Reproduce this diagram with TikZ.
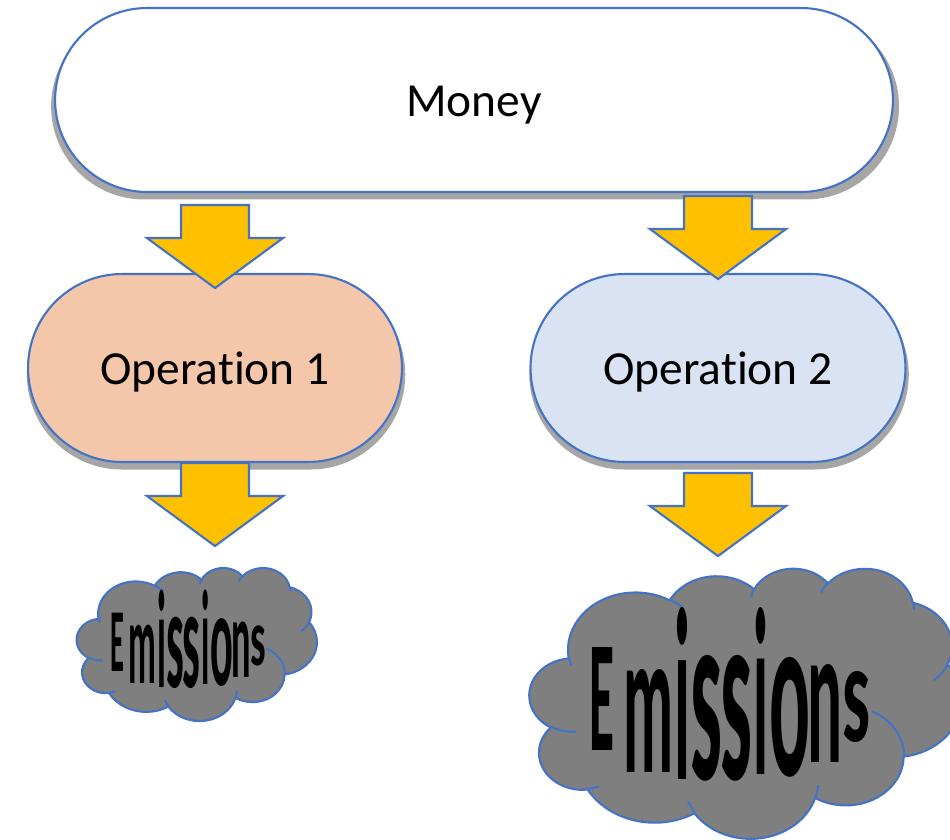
\documentclass[tikz,border=0pt]{standalone}
\usepackage{fontspec}
\setmainfont{Carlito}[RawFeature={-liga;-clig;-dlig;-calt}]
\usetikzlibrary{shapes.misc,shadows,calc}

\definecolor{edgeblue}{HTML}{4472C4}
\definecolor{peach}{HTML}{F4C7AA}
\definecolor{paleblue}{HTML}{DAE3F3}
\definecolor{amber}{HTML}{FFC000}
\definecolor{smoke}{HTML}{7F7F7F}
\definecolor{shade}{HTML}{A6A6A6}

\tikzset{
  pill/.style={rounded rectangle, draw=edgeblue, line width=1.2pt, inner sep=0pt,
    font=\fontsize{27}{32}\selectfont, text height=25.6pt, text depth=7.3pt,
    drop shadow={shadow xshift=0.6pt, shadow yshift=-3.6pt, shadow scale=1.012,
      fill=shade, opacity=1}},
  blockarrow/.style={draw=edgeblue, fill=amber, line width=1.2pt},
  cloudedge/.style={draw=edgeblue, line width=1.2pt},
  glyph/.style={anchor=south, inner sep=0pt, transform shape},
}

% fat down arrow, #1 = middle of the shaft top
\newcommand{\flowarrow}[1]{%
  \draw[blockarrow] (#1) ++(-34,0) -- ++(68,0) -- ++(0,33) -- ++(34,0)
    -- ++(-68,50) -- ++(-68,-50) -- ++(34,0) -- cycle;}

% cloud outline in a 432 x 432 box, y pointing down
\newcommand{\cloudoutline}{%
  \draw[cloudedge, fill=smoke] (38.62,145.05)
    arc[start angle=-187.75, end angle=-59.64, x radius=67.53, y radius=91.90]
    arc[start angle=-152.02, end angle=-45.45, x radius=53.33, y radius=72.67]
    arc[start angle=-153.48, end angle=-37.33, x radius=43.65, y radius=59.45]
    arc[start angle=-139.70, end angle=-10.22, x radius=48.57, y radius=65.95]
    arc[start angle=-74.77, end angle=23.21, x radius=53.33, y radius=72.73]
    arc[start angle=-37.53, end angle=81.87, x radius=67.75, y radius=92.20]
    arc[start angle=0.46, end angle=121.98, x radius=57.85, y radius=78.67]
    arc[start angle=16.85, end angle=146.22, x radius=67.52, y radius=92.15]
    arc[start angle=58.98, end angle=150.19, x radius=77.20, y radius=105.43]
    arc[start angle=83.30, end angle=223.12, x radius=43.60, y radius=59.18]
    arc[start angle=120.36, end angle=264.11, x radius=43.45, y radius=59.45]
    -- cycle;
  % the little folds inside
  \draw[cloudedge]
    (46.46,263.46) arc[start angle=85.54, end angle=120.36, x radius=43.45, y radius=59.45]
    (69.10,350.91) arc[start angle=68.23, end angle=83.30, x radius=43.60, y radius=59.18]
    (164.79,392.67) arc[start angle=146.22, end angle=158.47, x radius=67.52, y radius=92.15]
    (288.20,349.03) arc[start angle=4.73, end angle=16.85, x radius=67.52, y radius=92.15]
    (341.52,230.69) arc[start angle=-64.01, end angle=0.46, x radius=57.85, y radius=78.67]
    (418.17,154.61) arc[start angle=23.21, end angle=49.65, x radius=53.33, y radius=72.73]
    (383.16,55.77) arc[start angle=-10.22, end angle=0.83, x radius=48.57, y radius=65.95]
    (290.89,40.95) arc[start angle=-156.29, end angle=-139.70, x radius=48.57, y radius=65.95]
    (220.96,48.22) arc[start angle=-167.72, end angle=-154.10, x radius=43.65, y radius=59.45]
    (140.04,52.01) arc[start angle=-59.64, end angle=-45.74, x radius=67.53, y radius=91.90]
    (41.26,157.89) arc[start angle=163.19, end angle=172.25, x radius=67.53, y radius=91.90];
}

% cloud with stretched lettering, #1 name, #2 top left corner, #3 xscale, #4 yscale
\newcommand{\emissioncloud}[4]{%
  \begin{scope}[shift={#2}, xscale=#3, yscale=#4]
    \begin{scope}[yscale=0.625]
      \cloudoutline
    \end{scope}
    \coordinate (#1) at (216,135);
    \foreach \ltr/\lx/\ly/\w/\h [count=\k] in
        {E/72/184/25/103, m/118.5/206/50/103, i/152.5/213/16/172,
         s/176.5/215/32/124, s/206.5/215/32/124, i/231/208/15/167,
         o/260/211/41/118, n/295/196/35/98, s/326.5/176/28/70} {
      \pgfmathsetlengthmacro\bw{\w*0.02cm}
      \pgfmathsetlengthmacro\bh{\h*0.02cm}
      \node[glyph] (#1-\k) at (\lx,\ly) {\resizebox{\bw}{\bh}{\bfseries\ltr}};
    }
  \end{scope}}

\begin{document}
\begin{tikzpicture}[x=0.02cm, y=-0.02cm]
\useasboundingbox (0,0) rectangle (950,839);
\clip (0,0) rectangle (950,839);

\node[pill, fill=white, minimum width=16.76cm, minimum height=3.68cm] (money) at (474,100) {Money};
\node[pill, fill=peach, minimum width=7.48cm, minimum height=3.76cm] (op1) at (215,368) {Operation 1};
\node[pill, fill=paleblue, minimum width=7.5cm, minimum height=3.76cm] (op2) at (718,368) {Operation 2};

\emissioncloud{cloud1}{(77,567)}{0.5556}{0.5667}
\emissioncloud{cloud2}{(530,567)}{1}{1}

\flowarrow{$(money.south -| op1)+(0,12)$}
\flowarrow{$(money.south -| op2)+(0,3)$}
\flowarrow{$(op1.south)+(0,0)$}
\flowarrow{$(op2.south)+(0,10)$}
\end{tikzpicture}
\end{document}
